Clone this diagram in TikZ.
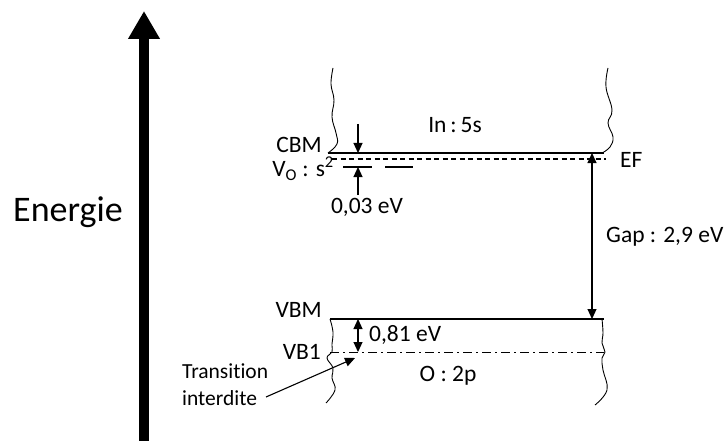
\documentclass[tikz,border=0pt]{standalone}
\usepackage{fontspec}
\setmainfont{Carlito}[Ligatures=NoCommon]
\usetikzlibrary{arrows.meta}
\tikzset{
  lvl/.style={line width=1.1pt},
  wav/.style={line width=0.9pt},
  arrtip/.style={line width=1.1pt,-{Triangle[length=10pt,width=9pt]}},
  dblarr/.style={line width=1.1pt,{Triangle[length=10pt,width=9pt]}-{Triangle[length=10pt,width=9pt]}},
  lbl/.style={inner sep=0pt,font=\fontsize{23.5}{27}\selectfont},
}
\begin{document}
\begin{tikzpicture}[x=1pt,y=-1pt]
\useasboundingbox (0,0) rectangle (728,441);
% energy axis
\coordinate (axisbot) at (144,441);
\coordinate (axistop) at (144,11);
\draw[line width=10pt,-{Triangle[length=28pt,width=30pt]}] (axisbot) -- (axistop);
\node[inner sep=0pt,font=\fontsize{36}{42}\selectfont] (energie) at (68,212) {Energie};

% level coordinates
\coordinate (cbmL) at (328,153); \coordinate (cbmR) at (604,153);
\coordinate (efL) at (332,159); \coordinate (efR) at (606,159);
\coordinate (voA) at (343,167); \coordinate (voB) at (372,167);
\coordinate (voC) at (385,167); \coordinate (voD) at (413,167);
\coordinate (vbmL) at (330,319); \coordinate (vbmR) at (604,319);
\coordinate (vb1L) at (330,352); \coordinate (vb1R) at (604,352);

\draw[lvl] (cbmL) -- (cbmR);
\draw[lvl,dash pattern=on 5pt off 3.5pt] (efL) -- (efR);
\draw[lvl] (voA) -- (voB);
\draw[lvl] (voC) -- (voD);
\draw[lvl] (vbmL) -- (vbmR);
\draw[line width=1pt,dash pattern=on 9pt off 4pt on 2pt off 4pt] (vb1L) -- (vb1R);

% wavy band edges
\draw[wav] plot[smooth,tension=0.7] coordinates {(333,68) (331,84) (334,100) (332,117) (336,133) (337,144) (328,153)};
\draw[wav] plot[smooth,tension=0.7] coordinates {(608,68) (606,87) (612,110) (608,123) (613,137) (610,147) (602,153)};
\draw[wav] plot[smooth,tension=0.7] coordinates {(330,319) (333,332) (332,344) (332,352) (327,358) (333,368) (332,378) (335,390) (326,403)};
\draw[wav] plot[smooth,tension=0.7] coordinates {(602,319) (603,333) (602,343) (605,352) (602,358) (603,370) (607,390) (595,405)};

% labels
\node[lbl] (in5s) at (455,125) {In\,:\,5s};
\node[lbl,anchor=east] (cbm) at (322,145) {CBM};
\node[lbl,anchor=east] (vo) at (334,169) {V\textsubscript{O} : s\textsuperscript{2}};
\node[lbl] (d003) at (367,207) {0,03 eV};
\node[lbl,anchor=west] (ef) at (620,160) {EF};
\node[lbl,anchor=west] (gap) at (606,237) {Gap : 2,9 eV};
\node[lbl,anchor=east] (vbm) at (322,310) {VBM};
\node[lbl,anchor=east] (vb1) at (321,352) {VB1};
\node[lbl,anchor=west] (d081) at (369,335) {0,81 eV};
\node[lbl] (o2p) at (448,376) {O : 2p};
\node[inner sep=0pt,anchor=north west,align=left,font=\fontsize{21.5}{27}\selectfont] (trans) at (182,364) {Transition\\interdite};

% arrows
\coordinate (a1s) at (358,124); \coordinate (a1e) at (358,153);
\coordinate (a2s) at (358,195); \coordinate (a2e) at (358,167);
\coordinate (gapT) at (592,153); \coordinate (gapB) at (592,319);
\coordinate (e81T) at (358,319); \coordinate (e81B) at (358,352);
\coordinate (trS) at (266,397); \coordinate (trE) at (355,358);
\draw[arrtip] (a1s) -- (a1e);
\draw[arrtip] (a2s) -- (a2e);
\draw[dblarr] (gapT) -- (gapB);
\draw[dblarr] (e81T) -- (e81B);
\draw[arrtip] (trS) -- (trE);
\end{tikzpicture}
\end{document}
